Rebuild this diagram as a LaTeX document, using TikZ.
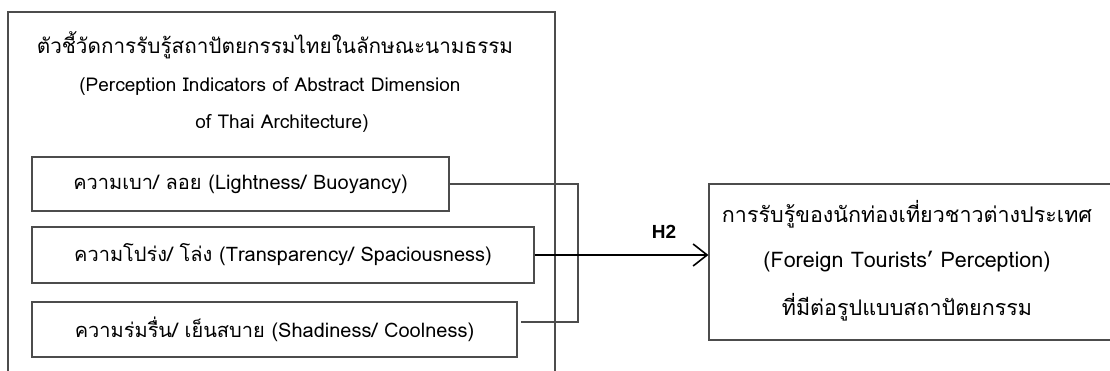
\documentclass[tikz,border=0pt]{standalone}
\usepackage{fontspec}
\setmainfont{Liberation Sans}
\newfontfamily\thai[Script=Thai]{Loma}
\usetikzlibrary{arrows.meta}
\definecolor{linegray}{gray}{0.3}
\tikzset{
  ibox/.style={draw=linegray, line width=1.2pt, inner sep=0pt, font=\thai\fontsize{20}{24}\selectfont},
  txt/.style={inner sep=0pt, font=\thai\fontsize{19}{23}\selectfont},
  rtxt/.style={inner sep=0pt, font=\thai\fontsize{21.5}{25}\selectfont},
  conn/.style={draw=linegray, line width=1.2pt},
  mainarrow/.style={draw=black, line width=1.6pt, -{Straight Barb[length=14pt,width=22pt,line width=1.6pt]}}
}
\begin{document}
\begin{tikzpicture}[x=1pt,y=-1pt]
\useasboundingbox (0,0) rectangle (1110,371);
\begin{scope}
\clip (0,0) rectangle (1110,371);
% outer box (open at bottom, clipped)
\draw[conn] (8,390) -- (8,12) -- (555,12) -- (555,390);
\node[txt, font=\thai\fontsize{20.7}{24}\selectfont] (t1) at (275,45) {ตัวชี้วัดการรับรู้สถาปัตยกรรมไทยในลักษณะนามธรรม};
\node[txt] (t2) at (270,86) {(Perception Indicators of Abstract Dimension};
\node[txt] (t3) at (282,123) {of Thai Architecture)};
% indicator boxes
\node[ibox, minimum width=417pt, minimum height=54pt] (b1) at (240.5,184) {ความเบา/ ลอย (Lightness/ Buoyancy)};
\node[ibox, minimum width=502pt, minimum height=56pt] (b2) at (283,255) {ความโปร่ง/ โล่ง (Transparency/ Spaciousness)};
\node[ibox, minimum width=485pt, minimum height=55pt] (b3) at (274.5,329.5) {ความร่มรื่น/ เย็นสบาย (Shadiness/ Coolness)};
% connectors
\coordinate (c1) at (578,184);
\coordinate (c3) at (578,322);
\coordinate (s3) at (521,322);
\draw[conn] (b1.east) -- (c1) -- (c3) -- (s3);
% right box
\node[draw=linegray, line width=1.2pt, minimum width=406pt, minimum height=156pt, inner sep=0pt] (rb) at (912,262) {};
\node[rtxt] (r1) at (907,214) {การรับรู้ของนักท่องเที่ยวชาวต่างประเทศ};
\node[rtxt] (r2) at (907,262) {(Foreign Tourists’ Perception)};
\node[rtxt] (r3) at (907,307) {ที่มีต่อรูปแบบสถาปัตยกรรม};
% main arrow
\draw[mainarrow] (b2.east) -- (rb.west |- b2.east);
\node[font=\bfseries\fontsize{19}{23}\selectfont, inner sep=0pt] (h2) at (664,232) {H2};
\end{scope}
\end{tikzpicture}
\end{document}
